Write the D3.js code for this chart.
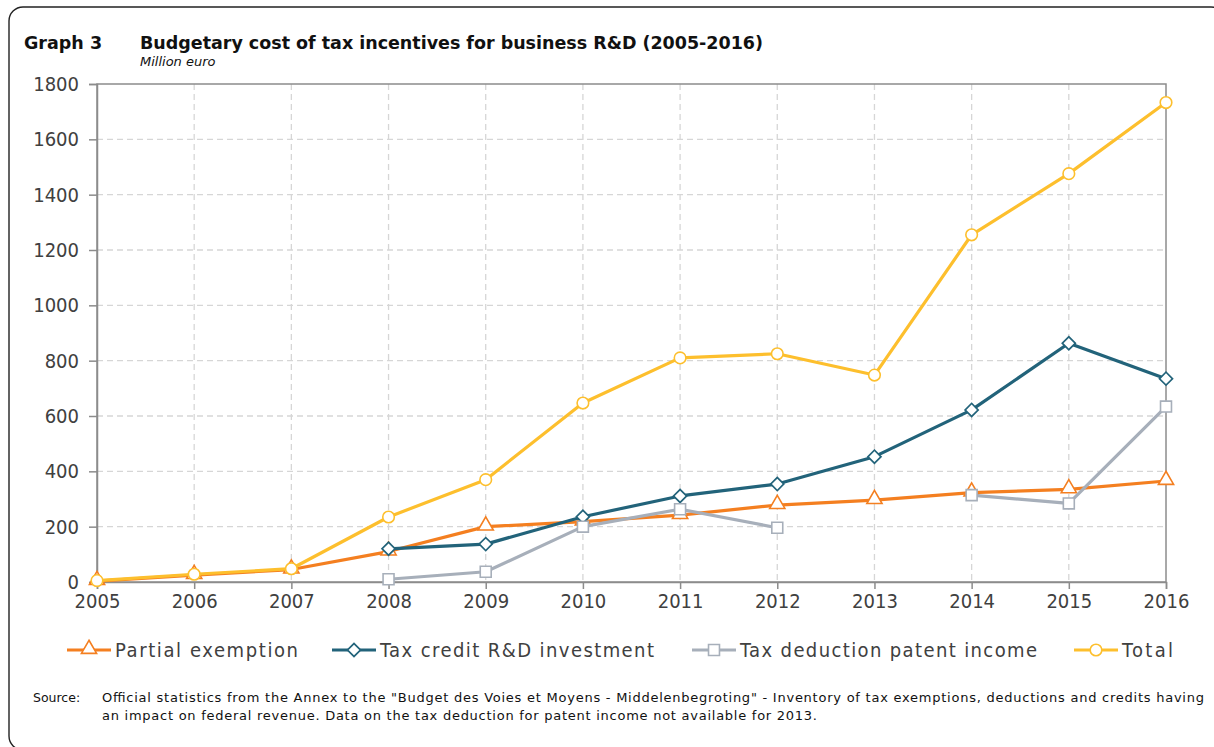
<!DOCTYPE html>
<html>
<head>
<meta charset="utf-8">
<script src="https://cdn.jsdelivr.net/npm/d3@7"></script>
<style>
  body { margin: 0; background: #fff; }
  text { font-family: "DejaVu Sans", sans-serif; }
</style>
</head>
<body>
<div id="chart"></div>
<script>
var years = [2005, 2006, 2007, 2008, 2009, 2010, 2011, 2012, 2013, 2014, 2015, 2016];
var yTicks = [0, 200, 400, 600, 800, 1000, 1200, 1400, 1600, 1800];

var partialExemption = [3, 25, 45, 110, 200, 218, 242, 278, 296, 323, 335, 365];
var taxCredit = [null, null, null, 120, 137, 236, 311, 354, 453, 622, 863, 735];
var patentIncome = [null, null, null, 10, 37, 200, 263, 196, null, 314, 284, 634];
var total = [5, 28, 48, 235, 370, 647, 810, 825, 748, 1255, 1476, 1733];

var seriesNames = ["Partial exemption", "Tax credit R&D investment", "Tax deduction patent income", "Total"];

var width = 1214, height = 747;
var margin = {left: 97, right: 48, top: 84, bottom: 165};
var innerW = width - margin.left - margin.right;
var innerH = height - margin.top - margin.bottom;

var series = [
  {name: seriesNames[0], values: partialExemption, color: "#F47F20", shape: "triangle"},
  {name: seriesNames[1], values: taxCredit, color: "#22637A", shape: "diamond"},
  {name: seriesNames[2], values: patentIncome, color: "#A7AFBA", shape: "square"},
  {name: seriesNames[3], values: total, color: "#FDBF2D", shape: "circle"}
];

var svg = d3.select("#chart").append("svg")
  .attr("width", width)
  .attr("height", height);

// frame
svg.append("rect")
  .attr("x", 9).attr("y", 7)
  .attr("width", 1216).attr("height", 743)
  .attr("rx", 14).attr("ry", 14)
  .attr("fill", "none")
  .attr("stroke", "#222")
  .attr("stroke-width", 1.4);

// title
svg.append("text")
  .attr("x", 24).attr("y", 49)
  .style("font-size", "17.5px").style("font-weight", "bold")
  .attr("fill", "#111")
  .text("Graph 3");
svg.append("text")
  .attr("x", 140).attr("y", 49)
  .attr("textLength", 623)
  .style("font-size", "17.5px").style("font-weight", "bold")
  .attr("fill", "#111")
  .text("Budgetary cost of tax incentives for business R&D (2005-2016)");
svg.append("text")
  .attr("x", 140).attr("y", 66)
  .style("font-size", "13px").style("font-style", "italic")
  .attr("fill", "#111")
  .text("Million euro");

var g = svg.append("g")
  .attr("transform", "translate(" + margin.left + "," + margin.top + ")");

var x = d3.scalePoint().domain(years).range([0, innerW]);
var y = d3.scaleLinear().domain([0, 1800]).range([innerH, 0]);

// grid
g.append("g").selectAll("line.h")
  .data(yTicks.slice(1, -1))
  .enter().append("line")
  .attr("x1", 0).attr("x2", innerW)
  .attr("y1", function(d) { return y(d); })
  .attr("y2", function(d) { return y(d); })
  .attr("stroke", "#d6d6d6").attr("stroke-width", 1.3)
  .attr("stroke-dasharray", "6,4");
g.append("g").selectAll("line.v")
  .data(years.slice(1, -1))
  .enter().append("line")
  .attr("y1", 0).attr("y2", innerH)
  .attr("x1", function(d) { return x(d); })
  .attr("x2", function(d) { return x(d); })
  .attr("stroke", "#d6d6d6").attr("stroke-width", 1.3)
  .attr("stroke-dasharray", "6,4");

// plot border
g.append("rect")
  .attr("width", innerW).attr("height", innerH)
  .attr("fill", "none")
  .attr("stroke", "#8c8c8c").attr("stroke-width", 1.5);

// axes
var yAxis = g.append("g")
  .call(d3.axisLeft(y).tickValues(yTicks).tickFormat(d3.format("d")).tickSize(8).tickPadding(10));
var xAxis = g.append("g")
  .attr("transform", "translate(0," + innerH + ")")
  .call(d3.axisBottom(x).tickSize(7).tickPadding(5));
[xAxis, yAxis].forEach(function(a) {
  a.select(".domain").attr("stroke", "#8c8c8c").attr("stroke-width", 1.5);
  a.selectAll(".tick line").attr("stroke", "#8c8c8c").attr("stroke-width", 1.5);
  a.selectAll(".tick text")
    .attr("fill", "#404040")
    .style("font-family", "'DejaVu Sans Condensed', 'DejaVu Sans', sans-serif")
    .style("font-size", "20px");
});

// markers
function drawMarker(sel, shape, color) {
  if (shape === "circle") {
    sel.append("circle").attr("r", 5.8)
      .attr("fill", "#fff").attr("stroke", color).attr("stroke-width", 1.6);
  } else if (shape === "diamond") {
    sel.append("path")
      .attr("d", d3.symbol().type(d3.symbolSquare).size(85))
      .attr("transform", "rotate(45)")
      .attr("fill", "#fff").attr("stroke", color).attr("stroke-width", 1.7);
  } else {
    var sym = shape === "triangle" ? d3.symbolTriangle : d3.symbolSquare;
    var size = shape === "triangle" ? 100 : 120;
    sel.append("path")
      .attr("d", d3.symbol().type(sym).size(size))
      .attr("transform", shape === "triangle" ? "translate(0,-1)" : null)
      .attr("fill", "#fff").attr("stroke", color).attr("stroke-width", 1.6);
  }
}

var line = d3.line()
  .defined(function(d) { return d.v !== null; })
  .x(function(d) { return x(d.year); })
  .y(function(d) { return y(d.v); });

series.forEach(function(s) {
  var pts = years.map(function(yr, i) { return {year: yr, v: s.values[i]}; });
  g.append("path")
    .datum(pts)
    .attr("fill", "none")
    .attr("stroke", s.color)
    .attr("stroke-width", 3.2)
    .attr("stroke-linejoin", "round")
    .attr("d", line);
  g.append("g").selectAll("g")
    .data(pts.filter(function(d) { return d.v !== null; }))
    .enter().append("g")
    .attr("transform", function(d) { return "translate(" + x(d.year) + "," + y(d.v) + ")"; })
    .each(function() { drawMarker(d3.select(this), s.shape, s.color); });
});

// legend
var legendX = [67, 332, 692, 1074];
var legendW = [183, 274, 297, 51];
var legend = svg.append("g");
series.forEach(function(s, i) {
  var lg = legend.append("g").attr("transform", "translate(" + legendX[i] + ",650)");
  lg.append("line").attr("x1", 0).attr("x2", 44)
    .attr("stroke", s.color).attr("stroke-width", 3.2);
  drawMarker(lg.append("g").attr("transform", "translate(22,0)"), s.shape, s.color);
  lg.append("text")
    .attr("x", 48).attr("y", 7)
    .attr("textLength", legendW[i])
    .attr("fill", "#404040")
    .style("font-family", "'DejaVu Sans Condensed', 'DejaVu Sans', sans-serif")
    .style("font-size", "20px")
    .text(s.name);
});

// source
svg.append("text")
  .attr("x", 33).attr("y", 702)
  .style("font-size", "12.5px").attr("fill", "#111")
  .text("Source:");
svg.append("text")
  .attr("x", 102).attr("y", 702)
  .attr("textLength", 1102)
  .style("font-size", "13px").attr("fill", "#111")
  .text("Official statistics from the Annex to the \"Budget des Voies et Moyens - Middelenbegroting\" - Inventory of tax exemptions, deductions and credits having");
svg.append("text")
  .attr("x", 102).attr("y", 720)
  .attr("textLength", 715)
  .style("font-size", "13px").attr("fill", "#111")
  .text("an impact on federal revenue. Data on the tax deduction for patent income not available for 2013.");
</script>
</body>
</html>
